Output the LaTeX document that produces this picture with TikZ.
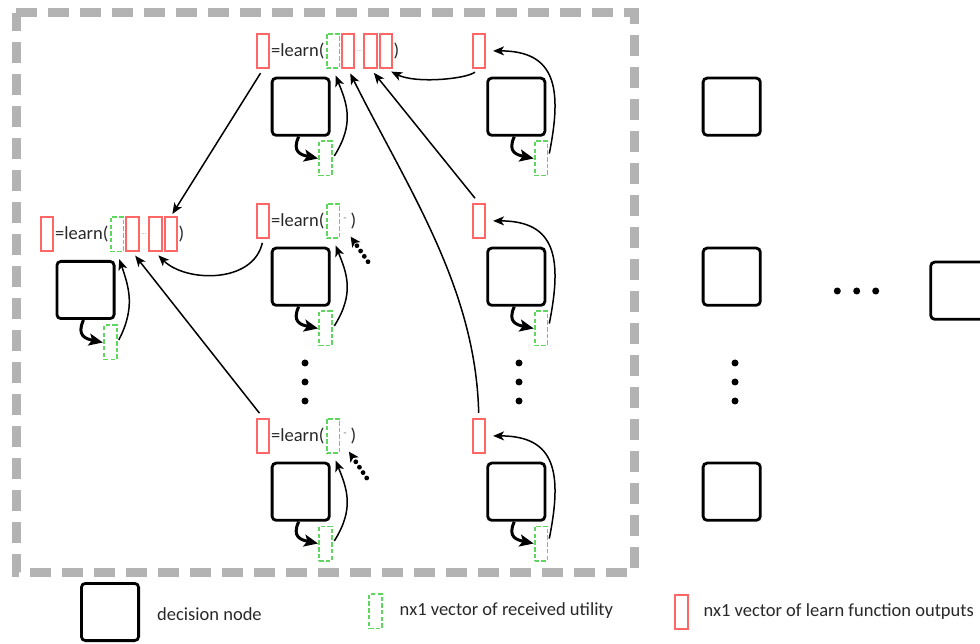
\documentclass[tikz,border=0pt]{standalone}
\usepackage{fontspec}
\setmainfont{Carlito}
\usetikzlibrary{arrows.meta}
\definecolor{redb}{RGB}{255,102,102}
\definecolor{greenb}{RGB}{95,215,95}
\definecolor{bordergray}{RGB}{179,179,179}
\definecolor{txt}{RGB}{40,40,40}
\begin{document}
\begin{tikzpicture}[x=1pt,y=1pt,
  dec/.style={draw=black, line width=2.8pt, rounded corners=4pt, minimum width=57.2pt, minimum height=57.2pt, inner sep=0pt},
  outv/.style={draw=redb, line width=2pt, minimum width=12.5pt, minimum height=34pt, inner sep=0pt},
  util/.style={draw=greenb, line width=1.8pt, dash pattern=on 4.5pt off 2.2pt, minimum width=12.8pt, minimum height=34.2pt, inner sep=0pt},
  lbl/.style={text=txt, font=\fontsize{18.5}{20}\selectfont, inner sep=0pt},
  tiny/.style={text=gray, font=\fontsize{6}{6}\selectfont, inner sep=0pt},
  arr/.style={line width=1.5pt, -{Stealth[length=11pt,width=9pt,inset=3pt]}},
  hook/.style={line width=3pt, -{Stealth[length=14pt,width=12pt,inset=3pt]}},
  dotarr/.style={line width=4.8pt, line cap=round, dash pattern=on 0pt off 6.5pt, -{Stealth[length=10pt,width=10pt,inset=2.5pt,line width=0pt]}},
  blackdot/.style={circle, fill=black, inner sep=0pt, minimum size=7pt},
]
\useasboundingbox (0,0) rectangle (980,643);

% dashed frame
\draw[line width=9pt, bordergray, dash pattern=on 21pt off 11pt] (16,630) -- (634,630) -- (634,71) -- (16,71) -- cycle;

% ---------- units ----------
\node[dec] (bA) at (85.5,353) {};
\node[outv] (rA) at (47,408.5) {};
\node[util] (gA) at (110.2,300.5) {};

\node[dec] (bB1) at (300.7,536.3) {};
\node[outv] (rB1) at (263.2,592.1) {};
\node[util] (gB1) at (325.4,484.5) {};

\node[dec] (bB2) at (300.7,366.3) {};
\node[outv] (rB2) at (263.2,422.1) {};
\node[util] (gB2) at (325.4,314.5) {};

\node[dec] (bB3) at (300.7,151.3) {};
\node[outv] (rB3) at (263.2,207.1) {};
\node[util] (gB3) at (325.4,99.5) {};

\node[dec] (bC1) at (516.3,536.3) {};
\node[outv] (rC1) at (478.8,592.1) {};
\node[util] (gC1) at (541,484.5) {};

\node[dec] (bC2) at (516.3,366.3) {};
\node[outv] (rC2) at (478.8,422.1) {};
\node[util] (gC2) at (541,314.5) {};

\node[dec] (bC3) at (516.3,151.3) {};
\node[outv] (rC3) at (478.8,207.1) {};
\node[util] (gC3) at (541,99.5) {};

% ---------- learn rows ----------
% left
\node[lbl, anchor=west] (tA) at (55,408.5) {=learn(};
\node[util] (lgA) at (117,408.5) {};
\node[outv] (lA2) at (132.7,408.5) {};
\node[tiny] (eA) at (144,408.5) {...};
\node[outv] (lA3) at (155.5,408.5) {};
\node[outv] (lA4) at (170.8,408.5) {};
\node[lbl] (pA) at (181.5,408.5) {)};
% top middle
\node[lbl, anchor=west] (tB1) at (271,592.1) {=learn(};
\node[util] (lgB1) at (333,592.1) {};
\node[outv] (lB1a) at (348,592.1) {};
\node[tiny] (eB1) at (359.5,592.1) {...};
\node[outv] (lB1b) at (370.7,592.1) {};
\node[outv] (lB1c) at (385.8,592.1) {};
\node[lbl] (pB1) at (396.5,592.1) {)};
% middle middle
\node[lbl, anchor=west] (tB2) at (271,422.1) {=learn(};
\node[util] (lgB2) at (333,422.1) {};
\node[tiny, font=\fontsize{11}{11}\selectfont] (eB2) at (345,423.5) {-};
\node[lbl] (pB2) at (353.5,422.1) {)};
% bottom middle
\node[lbl, anchor=west] (tB3) at (271,207.1) {=learn(};
\node[util] (lgB3) at (333,207.1) {};
\node[tiny, font=\fontsize{11}{11}\selectfont] (eB3) at (345,208.5) {-};
\node[lbl] (pB3) at (353.5,207.1) {)};

% ---------- outside boxes ----------
\node[dec] (bR1) at (731.7,536.3) {};
\node[dec] (bR2) at (731.7,366.3) {};
\node[dec] (bR3) at (731.7,151.3) {};
\node[dec] (bR4) at (959.3,352.3) {};

% dots
\foreach \x/\n in {305/B, 519/C, 735/R}{
  \node[blackdot] (v\n1) at (\x,280) {};
  \node[blackdot] (v\n2) at (\x,261) {};
  \node[blackdot] (v\n3) at (\x,242) {};
}
\node[blackdot] (h1) at (837.3,352) {};
\node[blackdot] (h2) at (856.7,352) {};
\node[blackdot] (h3) at (875.7,352) {};

% ---------- hook arrows ----------
\foreach \u in {A,B1,B2,B3,C1,C2,C3}{
  \draw[hook] ([xshift=-2pt]b\u.south) to[out=-115,in=168,looseness=1.5] (g\u.west);
}

% ---------- arc arrows (utility -> learn) ----------
\draw[arr, shorten <=3pt, shorten >=7pt] (gA.east) .. controls +(18,35) and +(12,-35) .. (lgA.south);
\draw[arr, shorten <=3pt, shorten >=7pt] (gB1.east) .. controls +(22,35) and +(14,-35) .. (lgB1.south);
\draw[arr, shorten <=3pt, shorten >=7pt] (gB2.east) .. controls +(22,35) and +(14,-35) .. (lgB2.south);
\draw[arr, shorten <=3pt, shorten >=7pt] (gB3.east) .. controls +(22,35) and +(14,-35) .. (lgB3.south);
\draw[arr, shorten <=5pt, shorten >=7pt] (gC1.east) .. controls +(14,70) and +(70,0) .. (rC1.east);
\draw[arr, shorten <=5pt, shorten >=7pt] (gC2.east) .. controls +(14,70) and +(70,0) .. (rC2.east);
\draw[arr, shorten <=5pt, shorten >=7pt] (gC3.east) .. controls +(14,70) and +(70,0) .. (rC3.east);

% ---------- long arrows ----------
\draw[arr, shorten <=5pt, shorten >=3pt] (rB1.south) -- (lA4.north);
\draw[arr, shorten <=4pt, shorten >=4pt] (rB2.south) .. controls +(-10,-45) and +(30,-30) .. (lA3.south);
\draw[arr, shorten <=6pt, shorten >=4pt] (rB3.north) -- (lA2.south);
\draw[arr, shorten <=5pt, shorten >=6pt] (rC1.south) .. controls +(-12,-10) and +(30,-15) .. (lB1c.south);
\draw[arr, shorten <=6pt, shorten >=5pt] (rC2.north) -- (lB1b.south);
\draw[arr, shorten <=5pt, shorten >=5pt] (rC3.north) .. controls +(-3,130) and +(60,-120) .. (lB1a.south);

% ---------- dotted arrows ----------
\coordinate (dB2s) at (368,381.3);
\coordinate (dB2e) at (350.7,406.3);
\coordinate (dB3s) at (366.7,165);
\coordinate (dB3e) at (349,191.3);
\draw[dotarr] (dB2s) -- (dB2e);
\draw[dotarr] (dB3s) -- (dB3e);

% ---------- legend ----------
\node[dec] (lgdDec) at (110,31) {};
\node[lbl, anchor=west] (lgdDecT) at (157,28.5) {decision node};
\node[util] (lgdUtil) at (375.5,31.7) {};
\node[lbl, anchor=west] (lgdUtilT) at (399.5,32.3) {nx1 vector of received utility};
\node[outv] (lgdOut) at (681.3,31.3) {};
\node[lbl, anchor=west] (lgdOutT) at (703.3,31.3) {nx1 vector of learn function outputs};
\end{tikzpicture}
\end{document}
